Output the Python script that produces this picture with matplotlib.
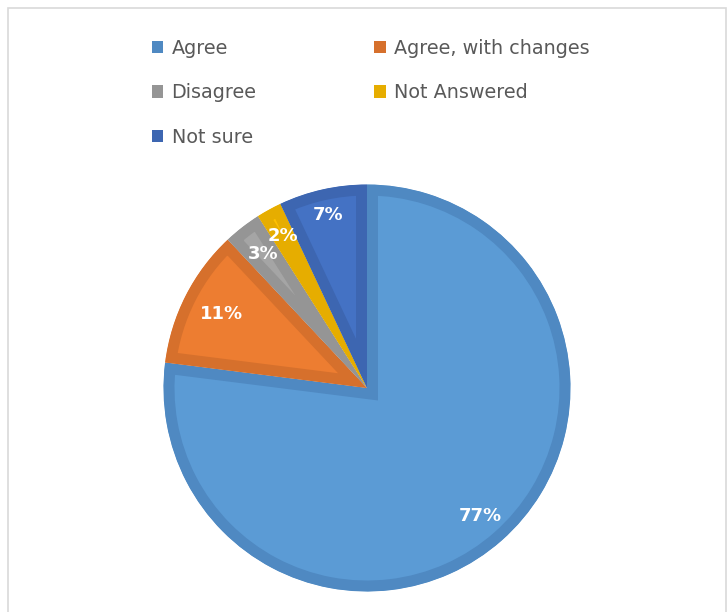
import matplotlib
matplotlib.use("Agg")
import matplotlib.pyplot as plt
import numpy as np
from matplotlib.patches import Patch, Rectangle

# survey responses (percent)
categories = ["Agree", "Agree, with changes", "Disagree", "Not Answered", "Not sure"]
shares = [77, 11, 3, 2, 7]
fill_colors = ["#5b9bd5", "#ed7d31", "#a5a5a5", "#ffc000", "#4472c4"]
edge_colors = ["#4f89c2", "#d6702c", "#959595", "#e6ad00", "#3d66b1"]
label_dist = [0.84, 0.80, 0.835, 0.855, 0.87]

W, H = 728, 612
fig = plt.figure(figsize=(W / 100, H / 100), dpi=100)
ax = fig.add_axes([0, 0, 1, 1])

cx, cy, r = 367, H - 388, 203.5
wedges, _, autotexts = ax.pie(
    shares, center=(cx, cy), radius=r, startangle=90, counterclock=False,
    autopct="%d%%", pctdistance=0.84,
    textprops=dict(color="white", fontsize=13, fontweight="bold"),
)
ax.set_xlim(0, W)
ax.set_ylim(0, H)
ax.set_aspect("equal")
ax.axis("off")

# thick inner border: stroke clipped to each wedge's own outline
for w, fc, ec in zip(wedges, fill_colors, edge_colors):
    w.set_facecolor(fc)
    w.set_edgecolor(ec)
    w.set_linewidth(22 * 72 / 100)
    w.set_joinstyle("miter")
    w.set_clip_on(True)
    w.set_clip_path(w)

# nudge the percentage labels along each wedge's bisector
for w, t, d in zip(wedges, autotexts, label_dist):
    ang = np.deg2rad((w.theta1 + w.theta2) / 2)
    t.set_position((cx + d * r * np.cos(ang), cy + d * r * np.sin(ang)))

# legend, filled row by row
order = [0, 2, 4, 1, 3]
handles = [Patch(facecolor=edge_colors[i], edgecolor="none") for i in order]
labels = [categories[i] for i in order]
fig.legend(handles, labels, ncol=2, loc="upper left",
           bbox_to_anchor=(142 / W, 1 - 29 / H), frameon=False,
           fontsize=13.8, labelcolor="#595959", borderpad=0,
           handlelength=0.62, handleheight=0.62, handletextpad=0.42,
           labelspacing=1.33, columnspacing=6.15)

# chart area outline
fig.patches.append(Rectangle((7.5 / W, -0.1), 718 / W, 1 - 7.5 / H + 0.1,
                             transform=fig.transFigure, fill=False,
                             edgecolor="#d9d9d9", linewidth=1.2))

fig.savefig("out.png", dpi=100)
